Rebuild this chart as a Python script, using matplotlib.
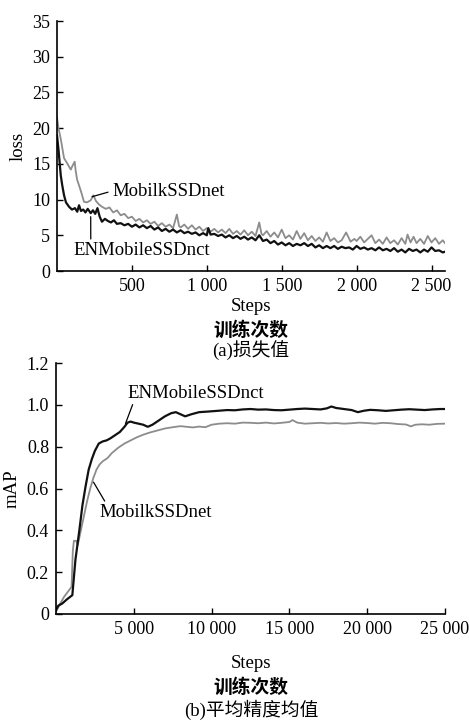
import matplotlib
matplotlib.use("Agg")
import matplotlib.pyplot as plt

plt.rcParams['font.family'] = ['Liberation Serif', 'Noto Sans CJK SC']
plt.rcParams['font.size'] = 13.5

# (a) loss vs steps
loss_steps_mob = [0, 10, 25, 47, 70, 92, 105, 118, 125, 134, 150, 165, 180, 200, 225, 243, 260, 281,
                  300, 325, 350, 375, 400, 425, 450, 475, 500, 525, 550, 575, 600, 625, 650, 675, 700,
                  725, 750, 775, 800, 815, 825, 850, 875, 900, 925, 950, 975, 1000, 1025, 1050, 1075,
                  1100, 1125, 1150, 1175, 1200, 1225, 1250, 1275, 1300, 1325, 1350, 1365, 1375, 1400,
                  1425, 1450, 1475, 1500, 1525, 1550, 1575, 1600, 1625, 1650, 1675, 1700, 1725, 1750,
                  1775, 1800, 1825, 1850, 1875, 1900, 1930, 1960, 1985, 2000, 2025, 2050, 2075, 2100,
                  2125, 2150, 2175, 2200, 2225, 2250, 2275, 2300, 2325, 2340, 2360, 2380, 2400, 2425,
                  2450, 2475, 2500, 2525, 2550, 2575, 2590]
loss_mob = [21.5, 20.0, 18.5, 15.8, 15.0, 14.2, 14.8, 15.3, 14.0, 12.8, 11.8, 10.8, 9.7, 9.6, 9.9, 10.6, 9.8, 9.3,
            9.0, 8.7, 8.9, 8.2, 8.5, 7.8, 8.0, 7.4, 7.6, 7.0, 7.3, 6.8, 7.1, 6.6, 6.9, 6.3, 6.7,
            6.2, 6.5, 6.0, 7.9, 6.3, 6.1, 6.5, 5.9, 6.4, 5.8, 6.2, 5.6, 6.0, 5.5, 5.9, 5.4,
            5.8, 5.3, 5.9, 5.2, 5.6, 5.1, 5.7, 5.0, 5.5, 4.9, 6.8, 5.2, 5.0, 5.6,
            4.8, 5.4, 4.7, 5.8, 4.6, 5.0, 4.4, 5.6, 4.5, 5.3, 4.3, 4.9, 4.2, 4.7,
            4.1, 5.4, 4.2, 4.6, 4.0, 4.3, 5.4, 4.1, 4.5, 4.2, 4.8, 4.0, 4.5, 5.0,
            3.9, 4.4, 3.8, 4.7, 3.9, 4.3, 3.7, 4.6, 3.8, 5.1, 4.0, 4.8, 3.9, 4.5,
            3.8, 4.9, 4.0, 4.6, 3.8, 4.3, 3.9]

loss_steps_en = [0, 10, 25, 35, 47, 60, 80, 100, 120, 135, 147, 160, 175, 190, 205, 225, 240, 255, 270, 285,
                 300, 320, 340, 360, 380, 400, 425, 450, 475, 500, 525, 550, 575, 600, 625, 650, 675,
                 700, 725, 750, 775, 800, 825, 850, 875, 900, 925, 950, 975, 1000, 1010, 1025, 1050,
                 1075, 1100, 1125, 1150, 1175, 1200, 1225, 1250, 1275, 1300, 1325, 1350, 1375, 1400,
                 1425, 1450, 1475, 1500, 1525, 1550, 1575, 1600, 1625, 1650, 1675, 1700, 1725, 1750,
                 1775, 1800, 1825, 1850, 1875, 1900, 1925, 1950, 1975, 2000, 2025, 2050, 2075, 2100,
                 2125, 2150, 2175, 2200, 2225, 2250, 2275, 2300, 2325, 2350, 2375, 2400, 2425, 2450,
                 2475, 2500, 2525, 2550, 2575, 2590]
loss_en = [19.0, 17.0, 13.4, 12.0, 10.6, 9.6, 9.0, 8.6, 8.8, 8.3, 9.2, 8.4, 8.6, 8.2, 8.7, 8.1, 8.5, 8.0, 8.8, 7.6,
           6.9, 7.3, 7.0, 6.8, 7.1, 6.6, 6.7, 6.4, 6.6, 6.2, 6.5, 6.1, 6.4, 6.0, 6.3, 5.8, 6.1,
           5.6, 5.9, 5.5, 5.8, 5.4, 5.7, 5.3, 5.5, 5.2, 5.4, 5.0, 5.3, 5.0, 6.0, 5.1, 5.2,
           4.9, 5.1, 4.7, 5.0, 4.6, 4.9, 4.5, 4.8, 4.4, 4.7, 4.3, 5.0, 4.2, 4.4,
           3.9, 4.2, 3.7, 4.0, 3.6, 3.9, 3.5, 3.8, 3.6, 3.9, 3.5, 3.8, 3.3, 3.6,
           3.2, 3.5, 3.2, 3.5, 3.1, 3.4, 3.2, 3.3, 3.0, 3.5, 3.1, 3.3, 3.0, 3.2,
           2.9, 3.3, 2.9, 3.1, 2.8, 3.2, 2.7, 3.0, 2.6, 3.1, 2.8, 3.0, 2.6, 3.0,
           2.7, 3.3, 2.8, 2.9, 2.6, 2.7]

loss_xticks = [500, 1000, 1500, 2000, 2500]
loss_xticklabels = ['500', '1 000', '1 500', '2 000', '2 500']
loss_yticks = [0, 5, 10, 15, 20, 25, 30, 35]

# (b) mAP vs steps
map_steps_en = [0, 150, 400, 700, 1050, 1250, 1500, 1700, 1900, 2100, 2300, 2500, 2750, 3000, 3250, 3500,
                3800, 4100, 4400, 4600, 4800, 5000, 5300, 5600, 5900, 6200, 6600, 7000, 7400, 7700,
                8000, 8300, 8700, 9200, 9800, 10500, 11000, 11500, 12000, 12500, 13000, 13500, 14000,
                14500, 15000, 15500, 16000, 16500, 17000, 17400, 17700, 18000, 18500, 19000, 19400,
                19800, 20200, 20700, 21200, 21700, 22200, 22700, 23200, 23700, 24200, 24700, 25000]
map_en = [0.02, 0.04, 0.05, 0.07, 0.09, 0.26, 0.40, 0.52, 0.61, 0.69, 0.74, 0.78, 0.815, 0.825, 0.83, 0.84,
          0.855, 0.87, 0.895, 0.915, 0.92, 0.915, 0.91, 0.905, 0.895, 0.905, 0.925, 0.945, 0.96, 0.965,
          0.955, 0.945, 0.955, 0.965, 0.968, 0.972, 0.975, 0.974, 0.978, 0.98, 0.977, 0.978, 0.975,
          0.974, 0.977, 0.98, 0.982, 0.98, 0.978, 0.983, 0.992, 0.985, 0.98, 0.975, 0.965,
          0.972, 0.976, 0.974, 0.971, 0.974, 0.977, 0.979, 0.977, 0.975, 0.978, 0.98, 0.98]

map_steps_mob = [0, 200, 500, 800, 1000, 1080, 1150, 1300, 1400, 1600, 1800, 2000, 2200, 2400, 2600, 2800,
                 3000, 3300, 3600, 4000, 4400, 4800, 5200, 5600, 6000, 6500, 7000, 7500, 8000, 8400,
                 8800, 9200, 9600, 10000, 10500, 11000, 11500, 12000, 12500, 13000, 13500, 14000, 14500,
                 15000, 15200, 15500, 16000, 16500, 17000, 17500, 18000, 18500, 19000, 19500, 20000,
                 20500, 21000, 21500, 22000, 22500, 22800, 23100, 23500, 24000, 24500, 25000]
map_mob = [0.01, 0.04, 0.08, 0.11, 0.13, 0.30, 0.35, 0.35, 0.33, 0.40, 0.47, 0.54, 0.60, 0.65, 0.69, 0.715,
           0.73, 0.745, 0.77, 0.795, 0.815, 0.83, 0.845, 0.857, 0.867, 0.877, 0.887, 0.893, 0.898, 0.895,
           0.892, 0.896, 0.893, 0.905, 0.91, 0.912, 0.91, 0.915, 0.914, 0.912, 0.915, 0.911, 0.914,
           0.918, 0.927, 0.915, 0.91, 0.912, 0.914, 0.911, 0.913, 0.91, 0.912, 0.915, 0.913,
           0.91, 0.914, 0.912, 0.908, 0.906, 0.897, 0.905, 0.907, 0.905, 0.909, 0.91]

map_xticks = [5000, 10000, 15000, 20000, 25000]
map_xticklabels = ['5 000', '10 000', '15 000', '20 000', '25 000']
map_yticks = [0, 0.2, 0.4, 0.6, 0.8, 1.0, 1.2]
map_yticklabels = ['0', '0.2', '0.4', '0.6', '0.8', '1.0', '1.2']

gray = '#8c8c8c'
black = '#111111'
fs = 13.5


def style_axes(ax):
    for s in ['top', 'right']:
        ax.spines[s].set_visible(False)
    for s in ['left', 'bottom']:
        ax.spines[s].set_linewidth(1.2)
    ax.tick_params(direction='in', length=4, width=1, labelsize=13, pad=5)


fig = plt.figure(figsize=(4.69, 7.2), dpi=100)

# top panel
ax1 = fig.add_axes([57 / 469, 1 - 271 / 720, 388 / 469, 250 / 720])
ax1.plot(loss_steps_mob, loss_mob, color=gray, lw=1.3)
ax1.plot(loss_steps_en, loss_en, color=black, lw=1.6)
ax1.set_xlim(0, 2590)
ax1.set_ylim(0, 35)
ax1.set_xticks(loss_xticks)
ax1.set_xticklabels(loss_xticklabels)
ax1.set_yticks(loss_yticks)
ax1.set_ylabel('loss', fontsize=fs, labelpad=4)
style_axes(ax1)
ax1.annotate('MobilkSSDnet', xy=(234, 10.4), xytext=(368, 11.2), ha='left', va='center', fontsize=fs,
             arrowprops=dict(arrowstyle='-', lw=0.9, color='k', shrinkA=1, shrinkB=0, relpos=(0, 0.5)))
ax1.annotate('ENMobileSSDnct', xy=(225, 7.6), xytext=(107, 2.9), ha='left', va='center', fontsize=fs,
             arrowprops=dict(arrowstyle='-', lw=0.9, color='k', shrinkA=0, shrinkB=0, relpos=(0.13, 1)))

fig.text(251 / 469, 1 - 306 / 720, 'Steps', ha='center', va='center', fontsize=fs)
fig.text(251 / 469, 1 - 330 / 720, '训练次数', ha='center', va='center', fontsize=fs, fontweight='bold')
fig.text(251 / 469, 1 - 350 / 720, '(a)损失值', ha='center', va='center', fontsize=fs)

# bottom panel
ax2 = fig.add_axes([56 / 469, 1 - 614 / 720, 389 / 469, 251 / 720])
ax2.plot(map_steps_mob, map_mob, color=gray, lw=1.3)
ax2.plot(map_steps_en, map_en, color=black, lw=1.6)
ax2.set_xlim(0, 25000)
ax2.set_ylim(0, 1.2)
ax2.set_xticks(map_xticks)
ax2.set_xticklabels(map_xticklabels)
ax2.set_yticks(map_yticks)
ax2.set_yticklabels(map_yticklabels)
ax2.set_ylabel('mAP', fontsize=fs, labelpad=4)
style_axes(ax2)
ax2.annotate('ENMobileSSDnct', xy=(4468, 0.911), xytext=(4597, 1.055), ha='left', va='center', fontsize=fs,
             arrowprops=dict(arrowstyle='-', lw=0.9, color='k', shrinkA=0, shrinkB=0, relpos=(0.045, 0)))
ax2.annotate('MobilkSSDnet', xy=(2414, 0.63), xytext=(2800, 0.486), ha='left', va='center', fontsize=fs,
             arrowprops=dict(arrowstyle='-', lw=0.9, color='k', shrinkA=0, shrinkB=0, relpos=(0.06, 1)))

fig.text(251 / 469, 1 - 663 / 720, 'Steps', ha='center', va='center', fontsize=fs)
fig.text(251 / 469, 1 - 687 / 720, '训练次数', ha='center', va='center', fontsize=fs, fontweight='bold')
fig.text(251 / 469, 1 - 710 / 720, '(b)平均精度均值', ha='center', va='center', fontsize=fs)

fig.savefig('out.png', dpi=100)
